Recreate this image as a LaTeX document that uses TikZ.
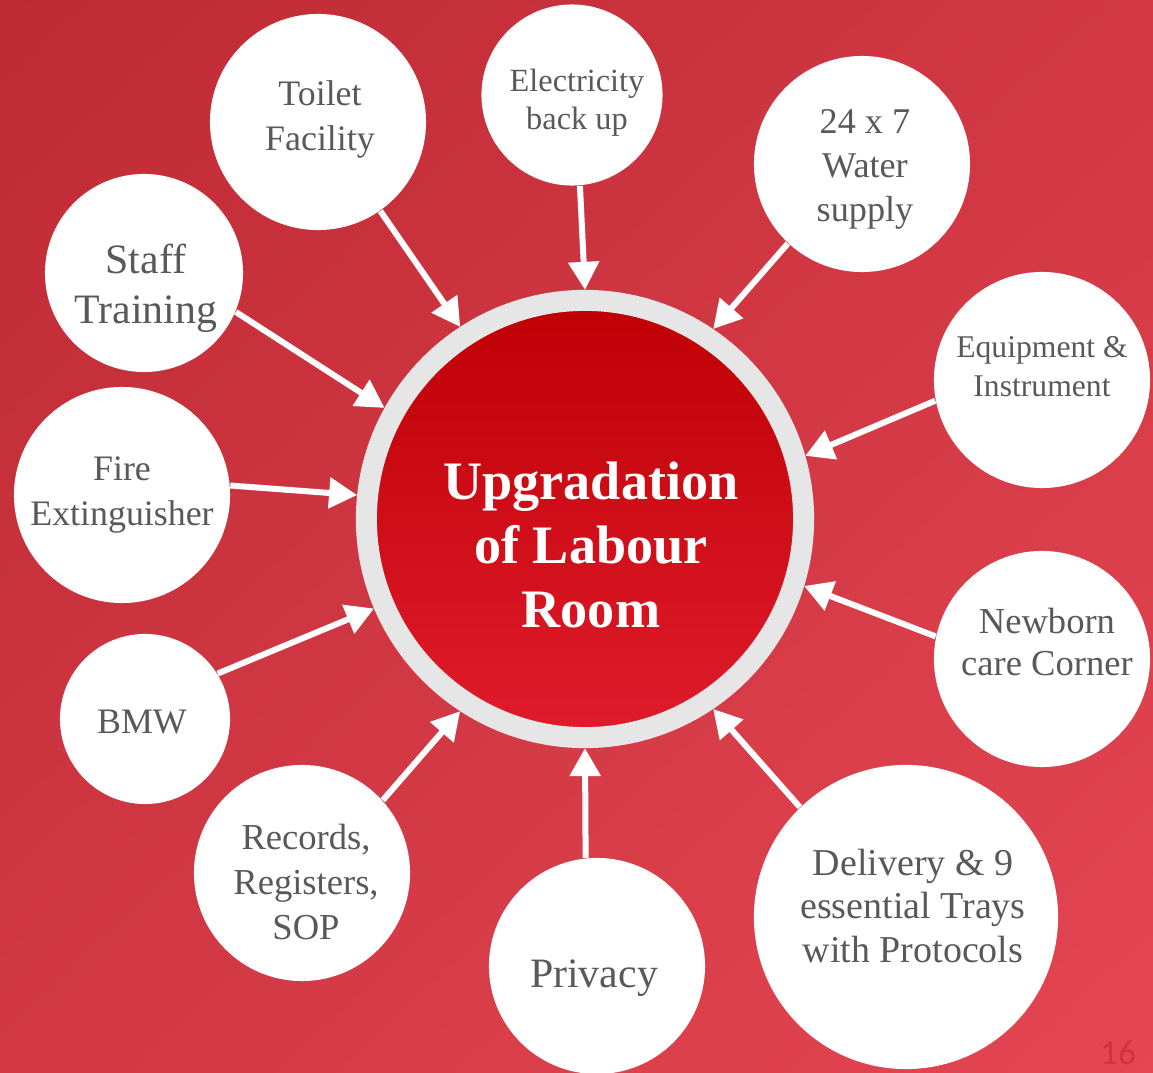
\documentclass[tikz,border=0pt]{standalone}
\usepackage{fontspec}
\setmainfont{Liberation Serif}
\newfontfamily\pagenumfont{Carlito}
\usepackage{tikz}
\usepackage{xcolor}
\usetikzlibrary{arrows.meta, shadings}
\definecolor{bg-dark}{RGB}{190,42,52}
\definecolor{bg-mid}{RGB}{209,56,67}
\definecolor{bg-light}{RGB}{228,70,82}
\definecolor{hub-top}{RGB}{190,0,5}
\definecolor{hub-bottom}{RGB}{224,28,44}
\definecolor{ring-gray}{RGB}{230,230,230}
\definecolor{label-gray}{RGB}{89,89,89}
\definecolor{pagenum-red}{RGB}{210,50,62}
\newcommand{\txtsize}[2]{\fontsize{#1}{#2}\selectfont}
\tikzset{
    hub-circle/.style = {circle, draw=ring-gray, line width=0.21cm, top color=hub-top, bottom color=hub-bottom, minimum size=4.37cm, inner sep=0pt},
    hub-text/.style = {text=white, align=center, inner sep=0pt, font=\bfseries\txtsize{15.4}{18.1}},
    satellite-circle/.style = {circle, fill=white, inner sep=0pt, minimum size=#1},
    satellite-text/.style = {text=label-gray, align=center, inner sep=0pt},
    feed-arrow/.style = {draw=white, line width=0.06cm, -{Triangle[width=0.3cm, length=0.28cm]}},
}

\begin{document}
\begin{tikzpicture}[x=0.01cm, y=-0.01cm]
\useasboundingbox (0,0) rectangle (1153,1073);
\shade[upper left=bg-dark, upper right=bg-mid, lower left=bg-mid, lower right=bg-light] (0,0) rectangle (1153,1073);

\node[hub-circle] (hub) at (585,519) {};
\node[hub-text] (hub-txt) at (591,545) {Upgradation\\of Labour\\Room};

\node[satellite-circle=2.16cm] (toilet) at (318,122) {};
\node[satellite-circle=1.81cm] (power) at (572,95) {};
\node[satellite-circle=2.16cm] (water) at (862,164) {};
\node[satellite-circle=2.16cm] (equipment) at (1042,380) {};
\node[satellite-circle=2.16cm] (newborn) at (1042,659) {};
\node[satellite-circle=3.04cm] (delivery) at (906,917) {};
\node[satellite-circle=2.16cm] (privacy) at (597,966) {};
\node[satellite-circle=2.16cm] (records) at (302,873) {};
\node[satellite-circle=1.70cm] (bmw) at (145,719) {};
\node[satellite-circle=2.16cm] (fire) at (122,495) {};
\node[satellite-circle=1.98cm] (staff) at (144,273) {};

\node[satellite-text, font={\txtsize{10.2}{12.8}}] (toilet-txt) at (320,119) {Toilet\\Facility};
\node[satellite-text, font={\txtsize{9.2}{10.8}}] (power-txt) at (577,103) {Electricity\\back up};
\node[satellite-text, font={\txtsize{10.3}{12.5}}] (water-txt) at (865,169) {24 x 7\\Water\\supply};
\node[satellite-text, font={\txtsize{9}{11.1}}] (equipment-txt) at (1042,367) {Equipment \&\\Instrument};
\node[satellite-text, font={\txtsize{10.4}{12.2}}] (newborn-txt) at (1047,642) {Newborn\\care Corner};
\node[satellite-text, font={\txtsize{10.8}{12.5}}] (delivery-txt) at (913,906) {Delivery \& 9\\essential Trays\\with Protocols};
\node[satellite-text, font={\txtsize{11.9}{14}}] (privacy-txt) at (594,978) {Privacy};
\node[satellite-text, font={\txtsize{10.4}{12.8}}] (records-txt) at (306,882) {Records,\\Registers,\\SOP};
\node[satellite-text, font={\txtsize{10.2}{12.8}}] (bmw-txt) at (142,722) {BMW};
\node[satellite-text, font={\txtsize{10.2}{12.8}}] (fire-txt) at (122,495) {Fire\\Extinguisher};
\node[satellite-text, font={\txtsize{11.9}{14.2}}] (staff-txt) at (146,288) {Staff\\Training};

\draw[feed-arrow] (toilet.-55.4) -- (hub.123.5);
\draw[feed-arrow] (power.-85) -- (hub.90);
\draw[feed-arrow] (water.-133.9) -- (hub.56.1);
\draw[feed-arrow] (equipment.191.7) -- (hub.16.6);
\draw[feed-arrow] (newborn.168.3) -- (hub.-17.3);
\draw[feed-arrow] (delivery.134.2) -- (hub.-56.1);
\draw[feed-arrow] (privacy.96.7) -- (hub.-90);
\draw[feed-arrow] (records.42.7) -- (hub.-123.6);
\draw[feed-arrow] (bmw.32.5) -- (hub.-157.5);
\draw[feed-arrow] (fire.5.9) -- (hub.174.5);
\draw[feed-arrow] (staff.-23) -- (hub.151.6);

\node[text=pagenum-red, font={\pagenumfont\txtsize{10}{12}}] (page-num) at (1118,1053) {16};
\end{tikzpicture}
\end{document}
